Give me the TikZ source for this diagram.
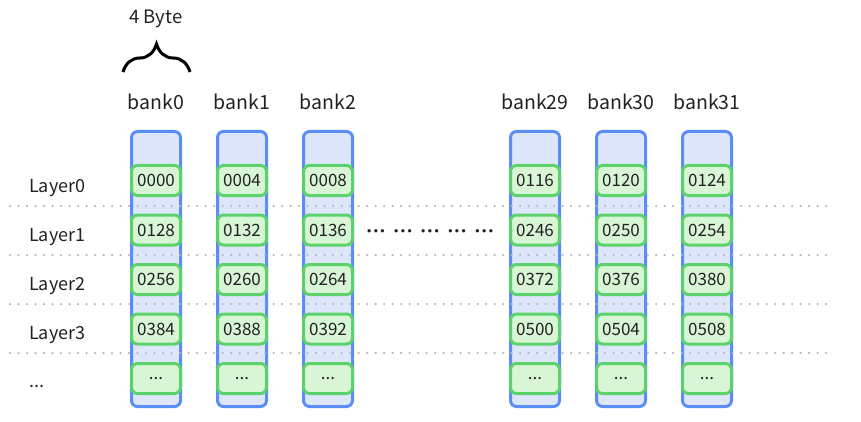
\documentclass[tikz,border=0pt]{standalone}
\usepackage{fontspec}
\setmainfont{Noto Sans CJK SC}
\newfontfamily\dotfont{DejaVu Sans}
\usepackage{xcolor}
\usetikzlibrary{positioning, decorations.pathreplacing}

\definecolor{bankline}{HTML}{5B8DF6}
\definecolor{bankfill}{HTML}{DDE6FA}
\definecolor{cellline}{HTML}{5CD36A}
\definecolor{cellfill}{HTML}{D8F5D6}
\definecolor{sepgray}{HTML}{B8B8B8}
\definecolor{textgray}{HTML}{222222}

\begin{document}
\begin{tikzpicture}[
    x=1pt, y=-1pt,
    node distance=16.5pt and 34pt,
    bankcol/.style={rectangle, draw=bankline, fill=bankfill, line width=3pt, rounded corners=6pt, minimum width=49pt, minimum height=275pt, inner sep=0pt},
    cell/.style={rectangle, draw=cellline, fill=cellfill, line width=3pt, rounded corners=6pt, minimum width=49pt, minimum height=30pt, inner sep=0pt, text=textgray, font=\fontsize{17}{19}\selectfont},
    banklabel/.style={text=textgray, font=\fontsize{19.5}{22}\selectfont},
    layerlabel/.style={anchor=west, inner sep=0pt, text=textgray, font=\fontsize{18}{22}\selectfont},
    sep/.style={draw=sepgray, line width=2.5pt, line cap=round, dash pattern=on 0pt off 8.5pt},
    bracket/.style={decorate, decoration={brace, amplitude=28pt}, line width=3pt}
]
\useasboundingbox (0,0) rectangle (861,422);

% Banks
\node[bankcol] (bank0col) at (156,269) {};
\node[bankcol, right=of bank0col] (bank1col) {};
\node[bankcol, right=of bank1col] (bank2col) {};
\node[bankcol, right=155pt of bank2col] (bank29col) {};
\node[bankcol, right=of bank29col] (bank30col) {};
\node[bankcol, right=of bank30col] (bank31col) {};

\node[banklabel, above=17pt of bank0col] (bank0) {bank0};
\node[banklabel, above=17pt of bank1col] (bank1) {bank1};
\node[banklabel, above=17pt of bank2col] (bank2) {bank2};
\node[banklabel, above=17pt of bank29col] (bank29) {bank29};
\node[banklabel, above=17pt of bank30col] (bank30) {bank30};
\node[banklabel, above=17pt of bank31col] (bank31) {bank31};

% Width of one bank
\node[banklabel, font=\fontsize{18.5}{22}\selectfont] (byte) at (156,19) {4 Byte};
\draw[bracket] (123,72) -- (190,72);

% Layer separators
\draw[sep] (10,206) -- (830,206);
\draw[sep] (10,255) -- (830,255);
\draw[sep] (10,304) -- (830,304);
\draw[sep] (10,353) -- (830,353);

% Layers
\node[layerlabel] (layer0) at (29,188) {Layer0};
\node[layerlabel] (layer1) at (29,237) {Layer1};
\node[layerlabel] (layer2) at (29,286) {Layer2};
\node[layerlabel] (layer3) at (29,335) {Layer3};
\node[layerlabel] (layerdots) at (29,386) {...};

% Cells
\node[cell, below=34pt of bank0col.north] (c0r0) {0000};
\node[cell, below=of c0r0] (c0r1) {0128};
\node[cell, below=of c0r1] (c0r2) {0256};
\node[cell, below=of c0r2] (c0r3) {0384};
\node[cell, below=of c0r3] (c0r4) {...};

\node[cell, below=34pt of bank1col.north] (c1r0) {0004};
\node[cell, below=of c1r0] (c1r1) {0132};
\node[cell, below=of c1r1] (c1r2) {0260};
\node[cell, below=of c1r2] (c1r3) {0388};
\node[cell, below=of c1r3] (c1r4) {...};

\node[cell, below=34pt of bank2col.north] (c2r0) {0008};
\node[cell, below=of c2r0] (c2r1) {0136};
\node[cell, below=of c2r1] (c2r2) {0264};
\node[cell, below=of c2r2] (c2r3) {0392};
\node[cell, below=of c2r3] (c2r4) {...};

\node[cell, below=34pt of bank29col.north] (c29r0) {0116};
\node[cell, below=of c29r0] (c29r1) {0246};
\node[cell, below=of c29r1] (c29r2) {0372};
\node[cell, below=of c29r2] (c29r3) {0500};
\node[cell, below=of c29r3] (c29r4) {...};

\node[cell, below=34pt of bank30col.north] (c30r0) {0120};
\node[cell, below=of c30r0] (c30r1) {0250};
\node[cell, below=of c30r1] (c30r2) {0376};
\node[cell, below=of c30r2] (c30r3) {0504};
\node[cell, below=of c30r3] (c30r4) {...};

\node[cell, below=34pt of bank31col.north] (c31r0) {0124};
\node[cell, below=of c31r0] (c31r1) {0254};
\node[cell, below=of c31r1] (c31r2) {0380};
\node[cell, below=of c31r2] (c31r3) {0508};
\node[cell, below=of c31r3] (c31r4) {...};

% Skipped banks
\node[inner sep=0pt, text=textgray, font=\dotfont\fontsize{11.4}{12}\selectfont] (skipped) at (430,233)
    {•••\hspace{6.9pt}•••\hspace{6.9pt}•••\hspace{6.9pt}•••\hspace{6.9pt}•••};

\end{tikzpicture}
\end{document}
